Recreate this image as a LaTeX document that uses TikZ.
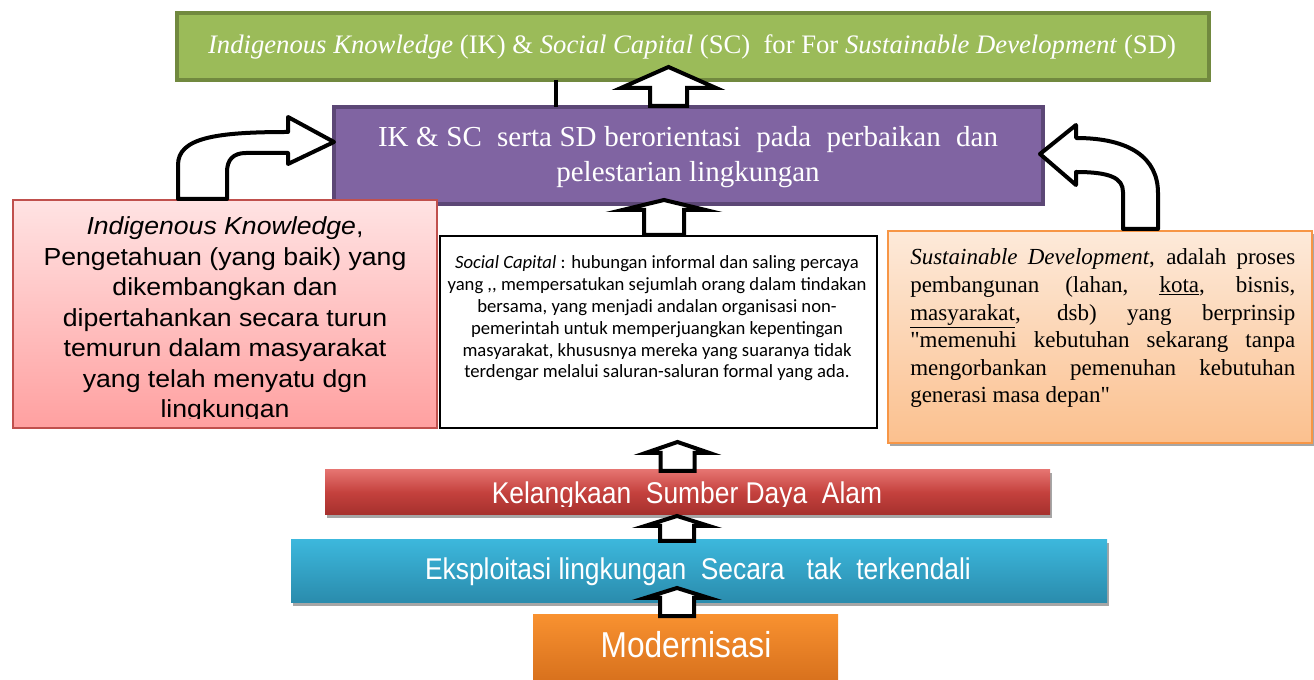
\documentclass[tikz,border=0pt]{standalone}
\usepackage{fontspec}
\setmainfont{Liberation Serif}[Ligatures=TeXOff]
\newfontfamily\arialwide{Liberation Sans}[Ligatures=TeXOff,FakeStretch=1.08]
\newfontfamily\arialnarrow{Liberation Sans}[Ligatures=TeXOff,FakeStretch=0.88]
\newfontfamily\calibrifont{Carlito}[Ligatures=TeXOff]
\usetikzlibrary{fit,shadows}
\definecolor{grfill}{HTML}{9BBB59}
\definecolor{grline}{HTML}{71893F}
\definecolor{pufill}{HTML}{8064A2}
\definecolor{puline}{HTML}{5C4776}
\definecolor{pktop}{HTML}{FFE3E3}
\definecolor{pkbot}{HTML}{FFA0A0}
\definecolor{pkline}{HTML}{C0504D}
\definecolor{pctop}{HTML}{FDEADA}
\definecolor{pcbot}{HTML}{FBC08E}
\definecolor{pcline}{HTML}{F79646}
\definecolor{rdtop}{HTML}{E57370}
\definecolor{rdmid}{HTML}{C4413D}
\definecolor{rdbot}{HTML}{A5302D}
\definecolor{cytop}{HTML}{3CB7DC}
\definecolor{cybot}{HTML}{2A8BAC}
\definecolor{ortop}{HTML}{F99230}
\definecolor{orbot}{HTML}{D66F1C}
\newcommand\blockup[6]{\draw[blk] (#1-#6,#4) -- (#1-#6,#3) -- (#1-#5,#3) -- (#1,#2) -- (#1+#5,#3) -- (#1+#6,#3) -- (#1+#6,#4) -- cycle;}
\begin{document}
\begin{tikzpicture}[x=0.75pt,y=-0.75pt,
  bx/.style={inner sep=0pt, outer sep=0pt},
  dshadow/.style={drop shadow={shadow xshift=1.5pt, shadow yshift=-2.5pt, opacity=0.35, fill=black}},
  blk/.style={draw=black, fill=white, line width=3pt},
  curvearr/.style={draw=black, fill=white, line width=3pt, line join=round},
  wtext/.style={text=white, inner sep=0pt, anchor=base},
]
\useasboundingbox (0,0) rectangle (1314,680);

% boxes
\node[bx, fit={(177,13) (1209,80)}, fill=grfill, draw=grline, line width=3pt] (green) {};
\node[bx, fit={(334,107) (1043,204)}, fill=pufill, draw=puline, line width=3pt] (purple) {};
\node[bx, fit={(13,200) (437,428)}, top color=pktop, bottom color=pkbot, draw=pkline, line width=1.2pt] (pink) {};
\node[bx, fit={(440,236) (877,428)}, fill=white, draw=black, line width=0.8pt] (social) {};
\node[bx, fit={(888,231) (1312,443)}, dshadow, top color=pctop, bottom color=pcbot, draw=pcline, line width=1.2pt] (peach) {};
\node[bx, fit={(325,470) (1050,515)}, dshadow, top color=rdtop, bottom color=rdbot, middle color=rdmid] (red) {};
\node[bx, fit={(291,540) (1107,603)}, dshadow, top color=cytop, bottom color=cybot] (cyan) {};
\node[bx, fit={(533,614) (838,684)}, top color=ortop, bottom color=orbot] (modern) {};

% texts (multi-line nodes: base anchor = baseline of last line)
\node[wtext, font=\fontsize{20pt}{24pt}\selectfont] (greenT) at (692,54)
  {\textit{Indigenous Knowledge} (IK) \& \textit{Social Capital} (SC)\ \ for For \textit{Sustainable Development} (SD)};
\node[wtext, align=center, font=\fontsize{21.75pt}{26.25pt}\selectfont] (purpleT) at (688,182)
  {\makebox[465pt][s]{IK \& SC\ \ serta SD berorientasi\ \ pada\ \ perbaikan\ \ dan}\\pelestarian lingkungan};
\begin{scope}
\clip (13,200) rectangle (437,419);
\node[anchor=base, inner sep=0pt, align=center, font=\arialwide\fontsize{18.5pt}{22.9pt}\selectfont] (pinkT) at (225,418)
  {\textit{Indigenous Knowledge}, \\ Pengetahuan (yang baik) yang\\ dikembangkan dan\\ dipertahankan secara turun\\ temurun dalam masyarakat\\ yang telah menyatu dgn\\ lingkungan};
\end{scope}
\node[anchor=base, inner sep=0pt, align=center, font=\calibrifont\fontsize{14pt}{16.35pt}\selectfont] (socialT) at (657,378)
  {\textit{Social Capital} : hubungan informal dan saling percaya\\ yang ,, mempersatukan sejumlah orang dalam tindakan\\ bersama, yang menjadi andalan organisasi non-\\ pemerintah untuk memperjuangkan kepentingan\\ masyarakat, khususnya mereka yang suaranya tidak\\ terdengar melalui saluran-saluran formal yang ada.};
\node[anchor=base west, inner sep=0pt, align=left, font=\fontsize{17.25pt}{20.7pt}\selectfont] (peachT) at (910,403)
  {\makebox[288.75pt][s]{\textit{Sustainable Development}, adalah proses}\\
   \makebox[288.75pt][s]{pembangunan (lahan, \underline{kota}, bisnis,}\\
   \makebox[288.75pt][s]{\underline{masyarakat}, dsb) yang berprinsip}\\
   \makebox[288.75pt][s]{"memenuhi kebutuhan sekarang tanpa}\\
   \makebox[288.75pt][s]{mengorbankan pemenuhan kebutuhan}\\
   generasi masa depan"};
\begin{scope}
\clip (325,470) rectangle (1050,507);
\node[wtext, font=\arialnarrow\fontsize{22.5pt}{27pt}\selectfont] (redT) at (687,504) {Kelangkaan\ \ Sumber Daya\ \ Alam};
\end{scope}
\node[wtext, font=\arialnarrow\fontsize{22.5pt}{27pt}\selectfont] (cyanT) at (698,580) {Eksploitasi lingkungan\ \ Secara\ \ \ tak\ \ terkendali};
\node[wtext, font=\arialnarrow\fontsize{27pt}{32pt}\selectfont] (modernT) at (686,657) {Modernisasi};

% connectors
\draw[line width=2.4pt] (green.south -| 556,0) -- (purple.north -| 556,0);
\blockup{668.5}{67}{88}{106}{47.5}{18.5}
\blockup{664}{200}{210}{235}{41.5}{20}
\blockup{677.5}{442}{453}{471}{32}{17}
\blockup{677}{516}{526}{541}{32}{17}
\blockup{677}{588}{598}{616}{32}{17}
\draw[curvearr] (178,199) -- (178,165) .. controls (178,138) and (215,132) .. (288,132) -- (288,117)
  -- (purple.west |- 0,142) -- (288,164) -- (288,153) -- (246,153) .. controls (233,153) and (227,160) .. (227,172) -- (227,199) -- cycle;
\draw[curvearr] (1123,229) -- (1123,192) .. controls (1123,178) and (1110,172) .. (1076,172) -- (1076,185)
  -- (1040,154) -- (1076,125) -- (1076,138) .. controls (1130,138) and (1158,158) .. (1158,193) -- (1158,229) -- cycle;
\end{tikzpicture}
\end{document}
